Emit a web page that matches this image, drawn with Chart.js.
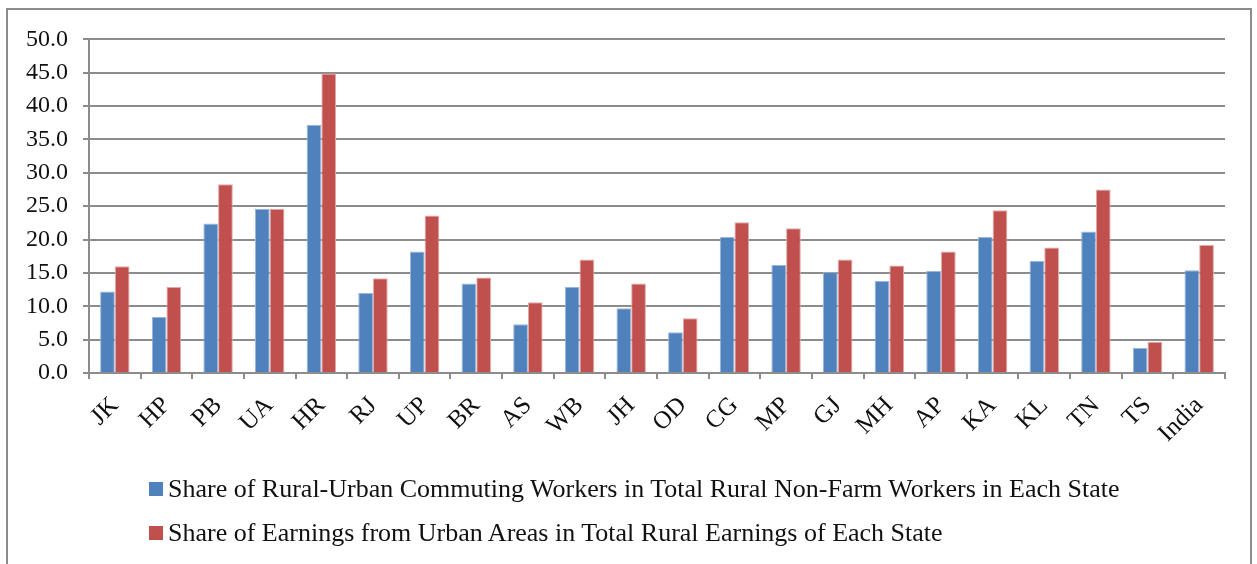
<!DOCTYPE html>
<html>
<head>
<meta charset="utf-8">
<script src="https://cdn.jsdelivr.net/npm/chart.js@4.4.1/dist/chart.umd.min.js"></script>
<style>
    body { margin: 0; background: #fff; width: 1257px; height: 564px; overflow: hidden; position: relative; }
    #frame { position: absolute; left: 6px; top: 8px; width: 1246px; height: 600px; border: 2px solid #8c8c8c; border-bottom: none; box-sizing: border-box; }
    #wrap { position: absolute; left: 8px; top: 10px; width: 1240px; height: 460px; }
    #legend { position: absolute; left: 149px; top: 467px; font-family: 'Liberation Serif', serif; font-size: 26px; color: #111; }
    .item { height: 44px; display: flex; align-items: center; white-space: nowrap; }
    .box { width: 14px; height: 14px; margin-right: 5px; display: inline-block; }
</style>
</head>
<body>
<div id="frame"></div>
<div id="wrap"><canvas id="chartBar"></canvas></div>
<div id="legend"></div>
<script>
var states = ["JK", "HP", "PB", "UA", "HR", "RJ", "UP", "BR", "AS", "WB", "JH",
    "OD", "CG", "MP", "GJ", "MH", "AP", "KA", "KL", "TN", "TS", "India"];

var commuting = [12.2, 8.4, 22.4, 24.6, 37.2, 12.0, 18.2, 13.4, 7.3, 12.9, 9.7,
    6.1, 20.4, 16.2, 15.1, 13.8, 15.3, 20.4, 16.8, 21.2, 3.8, 15.4];

var earnings = [16.0, 12.9, 28.3, 24.6, 44.9, 14.2, 23.6, 14.3, 10.6, 17.0, 13.4,
    8.2, 22.6, 21.7, 17.0, 16.1, 18.2, 24.4, 18.8, 27.5, 4.7, 19.2];

var yTicks = [0, 5, 10, 15, 20, 25, 30, 35, 40, 45, 50];

var seriesNames = [
    "Share of Rural-Urban Commuting Workers in Total Rural Non-Farm Workers in Each State",
    "Share of Earnings from Urban Areas in Total Rural Earnings of Each State"
];
var seriesColors = ["#4f81bd", "#c0504d"];
var seriesEdges = ["#9ab6da", "#e2a9a7"];

var serif = "'Liberation Serif', 'Times New Roman', serif";
var gridColor = "#8c8c8c";

var barData = {
    labels: states,
    datasets: [
        { label: seriesNames[0], data: commuting, backgroundColor: seriesColors[0],
          borderColor: seriesEdges[0], borderWidth: 1 },
        { label: seriesNames[1], data: earnings, backgroundColor: seriesColors[1],
          borderColor: seriesEdges[1], borderWidth: 1 }
    ]
};

var barOptions = {
    responsive: true,
    maintainAspectRatio: false,
    animation: false,
    events: [],
    layout: { padding: { top: 27, right: 23, left: 0, bottom: 0 } },
    datasets: { bar: { categoryPercentage: 0.57, barPercentage: 1.0 } },
    plugins: { legend: { display: false }, tooltip: { enabled: false } },
    scales: {
        x: {
            grid: { display: true, drawOnChartArea: false, color: gridColor, lineWidth: 2, tickLength: 6, offset: true },
            border: { color: gridColor, width: 2 },
            ticks: { color: "#111", font: { family: serif, size: 25 }, minRotation: 45, maxRotation: 45, padding: 12 },
            afterFit: function(scale) { scale.height = 97; }
        },
        y: {
            min: 0,
            max: 50,
            afterBuildTicks: function(scale) {
                scale.ticks = yTicks.map(function(v) { return { value: v }; });
            },
            grid: { color: gridColor, lineWidth: 2, tickLength: 6 },
            border: { color: gridColor, width: 2 },
            ticks: {
                color: "#111",
                font: { family: serif, size: 24 },
                padding: 15,
                callback: function(v) { return Number(v).toFixed(1); }
            },
            afterFit: function(scale) { scale.width = 81; }
        }
    }
};

new Chart(document.getElementById("chartBar"), { type: "bar", data: barData, options: barOptions });

var legend = document.getElementById("legend");
seriesNames.forEach(function(name, i) {
    var row = document.createElement("div");
    row.className = "item";
    var box = document.createElement("span");
    box.className = "box";
    box.style.background = seriesColors[i];
    row.appendChild(box);
    row.appendChild(document.createTextNode(name));
    legend.appendChild(row);
});
</script>
</body>
</html>
